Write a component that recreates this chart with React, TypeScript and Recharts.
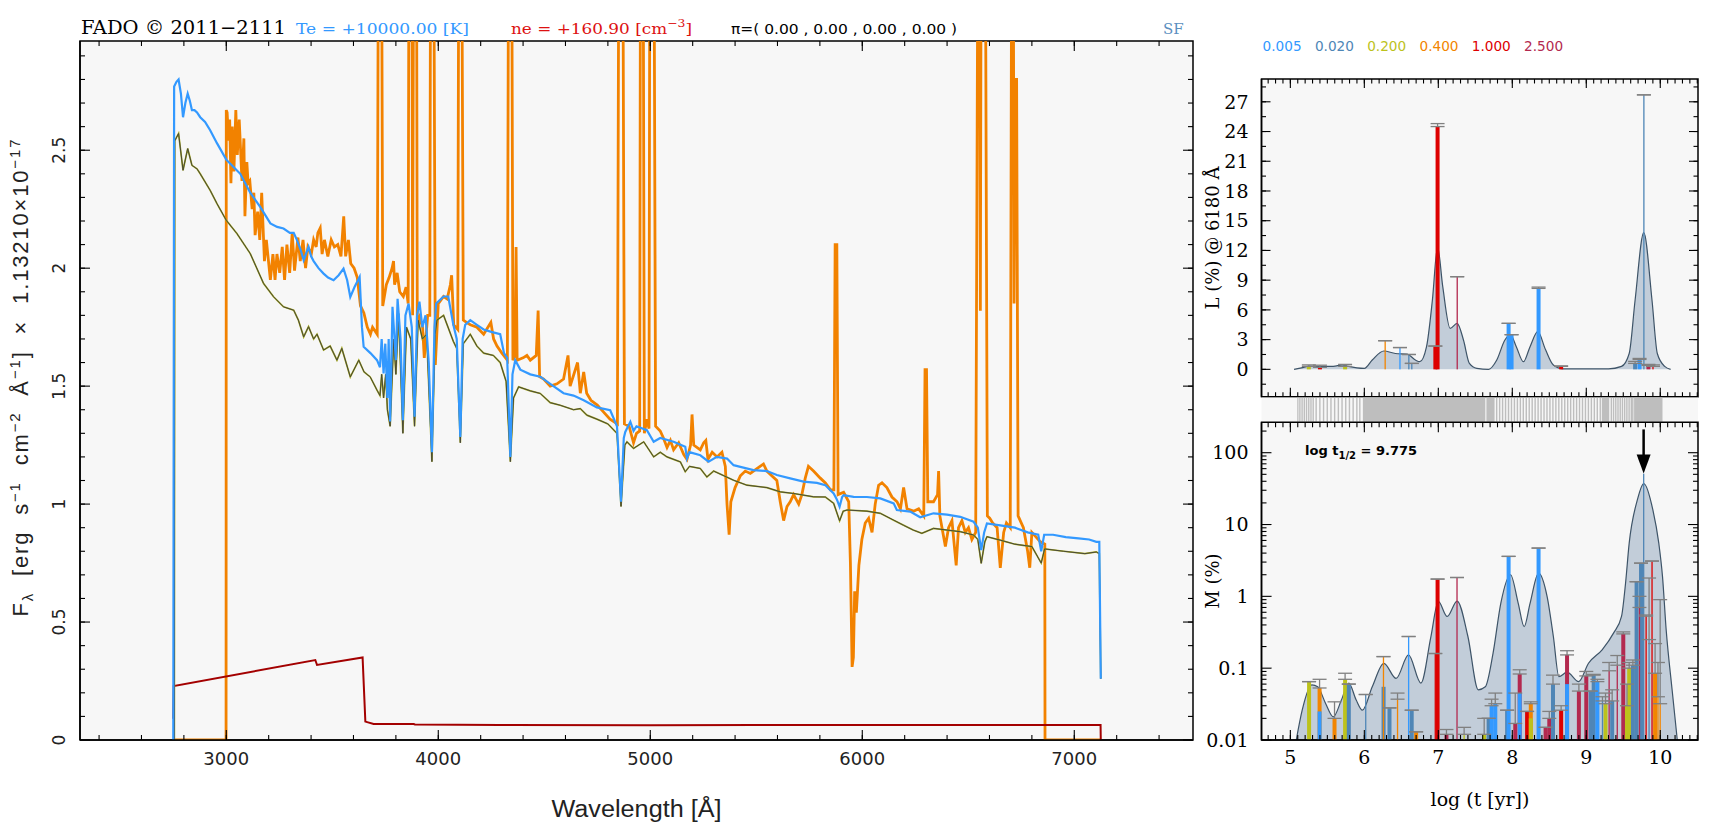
import React from 'react';
import {
  Area, Bar, CartesianGrid, Cell, ComposedChart, ErrorBar, Line, LineChart,
  ReferenceArea, ReferenceDot, ReferenceLine, XAxis, YAxis,
} from 'recharts';

const PANEL = '#f7f7f7';
const AXIS = { stroke: '#000', strokeWidth: 1.5 };
const SANS = 'DejaVu Sans';
const SERIF = 'DejaVu Serif';

// base metallicities and the colours used for them
const metallicities = ['0.005', '0.020', '0.200', '0.400', '1.000', '2.500'];
const zColours = ['#3399ff', '#4f86b6', '#bcc21c', '#f28500', '#dd0000', '#b3294f'];

// spectrum, [wavelength (A), flux]
const observed = [
  [2750, 0], [2999, 0], [3000, 2.67], [3004, 2.66], [3011, 2.54], [3016, 2.63], [3022, 2.36], [3028, 2.6],
  [3036, 2.41], [3045, 2.67], [3052, 2.48], [3061, 2.63], [3074, 2.37], [3083, 2.55], [3088, 2.22], [3097, 2.45],
  [3103, 2.36], [3111, 2.37], [3122, 2.25], [3130, 2.32], [3136, 2.14], [3148, 2.24], [3158, 2.12], [3167, 2.32],
  [3180, 2.03], [3189, 2.12], [3208, 1.95], [3220, 2.06], [3230, 1.95], [3239, 2.06], [3252, 1.98], [3264, 2.09],
  [3275, 1.95], [3286, 2.1], [3299, 1.98], [3311, 2.15], [3322, 1.99], [3338, 2.13], [3349, 2.03], [3362, 2.12],
  [3374, 2.0], [3385, 2.09], [3401, 2.06], [3412, 2.12], [3424, 2.09], [3432, 2.15], [3443, 2.17], [3452, 2.06],
  [3463, 2.12], [3479, 2.05], [3495, 2.12], [3510, 2.09], [3526, 2.1], [3541, 2.05], [3554, 2.22], [3563, 2.05],
  [3576, 2.12], [3587, 2.02], [3603, 2.0], [3618, 1.96], [3633, 1.84], [3649, 1.81], [3665, 1.75], [3680, 1.72],
  [3690, 1.75], [3712, 1.72], [3718, 3.6], [3732, 3.6], [3738, 1.84], [3755, 1.93], [3768, 1.96], [3782, 2.0],
  [3789, 2.03], [3794, 1.93], [3806, 1.98], [3818, 1.9], [3835, 1.88], [3848, 1.92], [3858, 1.85], [3862, 3.6],
  [3875, 3.6], [3879, 1.8], [3884, 3.6], [3897, 3.6], [3901, 1.75], [3912, 1.79], [3926, 1.75], [3934, 1.62],
  [3950, 1.8], [3960, 1.8], [3964, 3.6], [3978, 3.6], [3986, 1.59], [4000, 1.85], [4025, 1.88], [4042, 1.87],
  [4057, 1.93], [4063, 1.97], [4073, 1.76], [4092, 1.74], [4097, 3.6], [4110, 3.6], [4118, 1.78], [4133, 1.77],
  [4151, 1.76], [4182, 1.75], [4214, 1.72], [4248, 1.77], [4261, 1.7], [4277, 1.67], [4300, 1.64], [4326, 1.61],
  [4332, 3.6], [4346, 3.6], [4352, 1.61], [4362, 1.63], [4367, 2.09], [4372, 1.61], [4400, 1.62], [4418, 1.63],
  [4434, 1.61], [4462, 1.63], [4471, 1.82], [4478, 1.54], [4497, 1.53], [4528, 1.5], [4560, 1.51], [4591, 1.53],
  [4612, 1.63], [4622, 1.5], [4657, 1.6], [4670, 1.47], [4686, 1.56], [4700, 1.47], [4720, 1.44], [4750, 1.42],
  [4780, 1.39], [4810, 1.36], [4845, 1.34], [4852, 3.6], [4870, 3.6], [4878, 1.34], [4900, 1.33], [4921, 1.26],
  [4935, 1.3], [4950, 1.31], [4954, 3.6], [4966, 3.6], [4972, 1.3], [4984, 1.36], [4994, 1.32], [4998, 3.6],
  [5017, 3.6], [5025, 1.33], [5047, 1.31], [5062, 1.28], [5079, 1.24], [5095, 1.27], [5110, 1.23], [5134, 1.26],
  [5158, 1.21], [5173, 1.19], [5190, 1.25], [5197, 1.38], [5205, 1.25], [5236, 1.23], [5252, 1.26], [5262, 1.27],
  [5272, 1.19], [5292, 1.22], [5315, 1.2], [5338, 1.22], [5354, 1.16], [5362, 1.0], [5372, 0.87], [5380, 1.01],
  [5400, 1.07], [5425, 1.12], [5448, 1.14], [5472, 1.13], [5503, 1.15], [5518, 1.16], [5534, 1.17], [5550, 1.14],
  [5573, 1.12], [5597, 1.1], [5613, 1.01], [5629, 0.93], [5645, 0.99], [5660, 1.01], [5676, 1.04], [5700, 1.0],
  [5715, 1.04], [5731, 1.11], [5746, 1.16], [5770, 1.14], [5802, 1.11], [5826, 1.09], [5850, 1.06], [5866, 1.06],
  [5872, 2.1], [5880, 2.1], [5886, 1.04], [5912, 1.05], [5936, 1.01], [5944, 0.75], [5952, 0.31], [5958, 0.35],
  [5964, 0.63], [5972, 0.54], [5984, 0.74], [5998, 0.85], [6014, 0.92], [6030, 0.94], [6046, 0.88], [6061, 1.0],
  [6077, 1.08], [6093, 1.09], [6116, 1.07], [6140, 1.03], [6164, 1.01], [6180, 0.98], [6195, 1.07], [6211, 0.98],
  [6242, 0.97], [6266, 0.98], [6290, 0.95], [6296, 1.57], [6303, 1.57], [6309, 1.01], [6336, 1.01], [6355, 1.04],
  [6360, 1.14], [6366, 0.95], [6376, 0.9], [6392, 0.82], [6407, 0.9], [6423, 0.93], [6443, 0.74], [6454, 0.9],
  [6470, 0.93], [6486, 0.88], [6501, 0.9], [6517, 0.85], [6535, 0.88], [6546, 3.6], [6553, 3.6], [6557, 1.82],
  [6561, 3.6], [6580, 3.6], [6590, 0.95], [6601, 0.94], [6615, 0.92], [6636, 0.9], [6651, 0.73], [6667, 0.88],
  [6680, 0.92], [6698, 0.9], [6705, 3.6], [6712, 3.6], [6716, 1.85], [6721, 2.8], [6728, 2.8], [6735, 0.95],
  [6760, 0.9], [6780, 0.8], [6790, 0.73], [6800, 0.88], [6820, 0.86], [6840, 0.84], [6861, 0.83], [6862, 0],
  [7125, 0],
];

const bestFit = [
  [2750, 0], [2754, 2.77], [2765, 2.79], [2775, 2.8], [2786, 2.74], [2796, 2.64], [2807, 2.7], [2818, 2.74],
  [2828, 2.71], [2838, 2.67], [2850, 2.67], [2862, 2.66], [2877, 2.64], [2900, 2.62], [2924, 2.585], [2956, 2.53],
  [3000, 2.46], [3033, 2.43], [3066, 2.4], [3113, 2.32], [3160, 2.26], [3208, 2.19], [3240, 2.175], [3270, 2.168],
  [3300, 2.15], [3318, 2.15], [3333, 2.12], [3350, 2.08], [3365, 2.034], [3388, 2.09], [3400, 2.05], [3412, 2.03],
  [3435, 2.0], [3459, 1.977], [3480, 1.96], [3506, 1.949], [3530, 1.97], [3553, 1.998], [3570, 1.95], [3585, 1.878],
  [3605, 1.92], [3629, 1.963], [3640, 1.75], [3648, 1.667], [3680, 1.64], [3711, 1.61], [3725, 1.58], [3733, 1.7],
  [3742, 1.554], [3750, 1.68], [3760, 1.45], [3766, 1.7], [3773, 1.35], [3784, 1.836], [3800, 1.61], [3808, 1.87],
  [3822, 1.7], [3833, 1.356], [3845, 1.8], [3860, 1.85], [3875, 1.75], [3888, 1.37], [3900, 1.8], [3911, 1.858],
  [3925, 1.75], [3940, 1.8], [3955, 1.6], [3970, 1.22], [3982, 1.75], [3990, 1.85], [4025, 1.88], [4047, 1.88],
  [4071, 1.76], [4087, 1.7], [4104, 1.285], [4115, 1.7], [4127, 1.76], [4151, 1.78], [4182, 1.76], [4214, 1.74],
  [4250, 1.73], [4292, 1.72], [4310, 1.64], [4325, 1.62], [4340, 1.2], [4350, 1.55], [4363, 1.61], [4387, 1.57],
  [4434, 1.55], [4481, 1.54], [4528, 1.51], [4591, 1.47], [4638, 1.46], [4686, 1.44], [4748, 1.41], [4811, 1.398],
  [4843, 1.33], [4862, 1.01], [4875, 1.28], [4882, 1.306], [4906, 1.349], [4921, 1.31], [4935, 1.33], [4984, 1.313],
  [5016, 1.264], [5047, 1.28], [5110, 1.264], [5165, 1.243], [5173, 1.193], [5185, 1.22], [5236, 1.207], [5275, 1.18],
  [5314, 1.2], [5362, 1.193], [5393, 1.165], [5425, 1.158], [5487, 1.144], [5550, 1.14], [5597, 1.123], [5660, 1.109],
  [5723, 1.095], [5786, 1.09], [5826, 1.08], [5865, 1.045], [5880, 1.02], [5893, 0.989], [5905, 1.03], [5912, 1.038],
  [5959, 1.031], [6022, 1.03], [6085, 1.024], [6148, 1.003], [6163, 0.975], [6226, 0.968], [6273, 0.944], [6336, 0.961],
  [6400, 0.955], [6462, 0.946], [6525, 0.925], [6545, 0.9], [6561, 0.805], [6575, 0.88], [6588, 0.918], [6651, 0.91],
  [6720, 0.9], [6780, 0.88], [6830, 0.87], [6844, 0.8], [6858, 0.87], [6900, 0.87], [6960, 0.86], [7020, 0.855],
  [7070, 0.85], [7104, 0.84], [7118, 0.84], [7125, 0.26],
];

const stellar = [
  [2755, 0], [2757, 2.54], [2775, 2.571], [2796, 2.415], [2818, 2.507], [2838, 2.436], [2862, 2.421], [2877, 2.4],
  [2924, 2.33], [2956, 2.274], [3000, 2.203], [3050, 2.147], [3113, 2.062], [3176, 1.935], [3223, 1.879], [3270, 1.836],
  [3318, 1.822], [3340, 1.78], [3365, 1.709], [3388, 1.752], [3412, 1.7], [3428, 1.72], [3459, 1.653], [3490, 1.67],
  [3522, 1.61], [3545, 1.66], [3585, 1.539], [3625, 1.61], [3650, 1.56], [3679, 1.539], [3711, 1.483], [3725, 1.46],
  [3733, 1.55], [3742, 1.45], [3752, 1.55], [3760, 1.4], [3773, 1.33], [3790, 1.7], [3800, 1.55], [3813, 1.808],
  [3833, 1.3], [3850, 1.75], [3870, 1.7], [3888, 1.33], [3905, 1.78], [3925, 1.7], [3945, 1.72], [3970, 1.18],
  [3985, 1.72], [3994, 1.78], [4025, 1.8], [4071, 1.69], [4087, 1.66], [4104, 1.26], [4118, 1.68], [4151, 1.72],
  [4182, 1.67], [4214, 1.64], [4260, 1.63], [4292, 1.6], [4320, 1.52], [4340, 1.18], [4355, 1.45], [4379, 1.497],
  [4434, 1.48], [4481, 1.469], [4528, 1.43], [4575, 1.419], [4638, 1.4], [4670, 1.405], [4701, 1.377], [4748, 1.36],
  [4800, 1.34], [4843, 1.3], [4862, 0.99], [4880, 1.25], [4890, 1.264], [4921, 1.236], [4969, 1.264], [5016, 1.2],
  [5047, 1.22], [5079, 1.2], [5142, 1.179], [5165, 1.137], [5185, 1.16], [5236, 1.151], [5267, 1.115], [5299, 1.14],
  [5393, 1.101], [5456, 1.08], [5550, 1.07], [5613, 1.052], [5676, 1.045], [5770, 1.031], [5826, 1.03], [5865, 1.003],
  [5893, 0.929], [5910, 0.97], [5928, 0.975], [6022, 0.97], [6085, 0.961], [6148, 0.932], [6195, 0.91], [6240, 0.89],
  [6281, 0.876], [6336, 0.897], [6400, 0.89], [6462, 0.883], [6525, 0.869], [6545, 0.85], [6561, 0.749], [6578, 0.84],
  [6588, 0.862], [6651, 0.847], [6720, 0.83], [6800, 0.82], [6844, 0.75], [6860, 0.81], [6950, 0.8], [7050, 0.79],
  [7104, 0.797], [7118, 0.79], [7125, 0.26],
];

const nebular = [
  [2750, 0.09], [2752, 0.229], [3420, 0.339], [3428, 0.318], [3643, 0.35], [3656, 0.078], [3695, 0.068],
  [3884, 0.068], [3890, 0.066], [4291, 0.064], [5000, 0.063], [5500, 0.064], [6000, 0.064], [6500, 0.064],
  [7000, 0.064], [7124, 0.064], [7125, 0],
];

const specTicks = [3000, 4000, 5000, 6000, 7000];
const fluxTicks = [0, 0.5, 1, 1.5, 2, 2.5];

// age distributions, [log t, %]
const lightCurve = [
  [5.05, 0], [5.15, 0.15], [5.26, 0.33], [5.4, 0.3], [5.58, 0.3], [5.7, 0.45], [5.79, 0.3], [5.9, 0.15], [6.0, 0.1],
  [6.107, 0.94], [6.264, 1.85], [6.42, 1.6], [6.58, 1.54], [6.69, 0.94], [6.75, 0.77], [6.84, 2.27], [6.92, 7.0],
  [6.99, 12.37], [7.06, 8.34], [7.16, 4.13], [7.254, 4.64], [7.34, 2.96], [7.42, 0.6], [7.52, 0.1], [7.68, 0.0],
  [7.79, 0.94], [7.9, 2.96], [7.976, 3.47], [8.054, 2.29], [8.15, 0.77], [8.24, 2.29], [8.344, 3.8], [8.45, 1.97],
  [8.555, 0.44], [8.69, 0.05], [9.0, 0.05], [9.3, 0.05], [9.476, 0.3], [9.58, 1.6], [9.66, 7.0], [9.777, 13.8],
  [9.888, 7.0], [9.96, 1.6], [10.06, 0.3], [10.14, 0],
];
const massCurve = [
  [5.08, 0.01], [5.16, 0.026], [5.29, 0.0585], [5.37, 0.055], [5.475, 0.0325], [5.58, 0.021], [5.69, 0.036],
  [5.79, 0.062], [5.89, 0.036], [5.974, 0.026], [6.107, 0.055], [6.264, 0.117], [6.43, 0.072], [6.597, 0.153],
  [6.765, 0.062], [6.9, 0.276], [7.0, 0.85], [7.12, 0.525], [7.254, 0.86], [7.4, 0.276], [7.54, 0.05], [7.635, 0.055],
  [7.74, 0.162], [7.845, 0.805], [7.976, 2.0], [8.08, 0.8], [8.16, 0.38], [8.24, 0.8], [8.355, 2.11], [8.47, 1.0],
  [8.555, 0.276], [8.63, 0.076], [8.74, 0.088], [8.897, 0.065], [9.03, 0.117], [9.214, 0.18], [9.37, 0.31],
  [9.476, 0.525], [9.53, 1.5], [9.58, 5.5], [9.69, 22], [9.777, 37.2], [9.9, 16], [9.98, 5.5], [10.03, 1.9],
  [10.08, 0.34], [10.16, 0.05], [10.23, 0.01],
];

// individual SSPs, [log t, value, upper error or null, metallicity index]
const lightBars = [
  [5.25, 0.3, 0.15, 2], [5.4, 0.2, 0.22, 4], [5.74, 0.3, 0.2, 2], [6.96, 2.35, 0, 4], [6.99, 24.5, 0.3, 4],
  [7.95, 4.64, 0, 0], [7.99, 3.5, 0, 0], [8.355, 8.17, 0.13, 0], [8.66, 0.3, 0.05, 4], [9.66, 0.6, 0.2, 1],
  [9.72, 1.0, 0.1, 0], [9.84, 0.4, 0.1, 5],
];
const lightSpikes = [
  [6.28, 2.89, 0, 3], [6.48, 2.2, 0, 0], [6.6, 1.5, 0, 1], [6.64, 0.6, 0, 1], [7.254, 9.35, 0, 5],
  [9.777, 27.7, 0, 1], [9.9, 0.3, 0.15, 4],
];
const massBars = [
  [5.253, 0.065, 0, 2], [5.395, 0.053, 0.017, 3], [5.395, 0.025, null, 0], [5.597, 0.02, 0.014, 3],
  [5.74, 0.07, 0.015, 2], [5.79, 0.06, 0, 1], [6.26, 0.055, null, 1], [6.34, 0.028, 0, 1], [6.64, 0.026, 0, 1],
  [6.7, 0.013, 0, 3], [6.99, 1.74, 0, 4], [7.11, 0.012, 0.002, 5], [7.62, 0.012, 0.008, 2], [7.68, 0.02, 0, 1],
  [7.72, 0.03, 0.007, 0], [7.77, 0.032, 0.013, 0], [7.93, 0.026, 0, 1], [7.95, 3.6, 0, 0], [8.04, 0.017, 0.028, 5],
  [8.1, 0.083, 0.012, 5], [8.1, 0.045, null, 0], [8.2, 0.025, 0, 4], [8.25, 0.032, 0.002, 3], [8.25, 0.02, null, 2],
  [8.355, 4.7, 0, 0], [8.45, 0.015, 0, 5], [8.5, 0.02, 0.005, 5], [8.55, 0.06, 0.02, 1], [8.66, 0.026, 0.004, 4],
  [8.74, 0.153, 0.022, 5], [8.74, 0.06, null, 0], [8.9, 0.048, 0.012, 5], [9.0, 0.078, 0.012, 5], [9.06, 0.048, 0, 1],
  [9.1, 0.08, 0.002, 1], [9.15, 0.065, 0.005, 0], [9.26, 0.032, 0.013, 2], [9.35, 0.035, 0.015, 1],
  [9.5, 0.3, 0.02, 5], [9.55, 0.03, 0.03, 2], [9.58, 0.1, 0.02, 2], [9.63, 0.11, 0.02, 1], [9.68, 1.6, 0, 1],
  [9.74, 2.9, 0, 1], [9.93, 0.085, 0.135, 3],
];
const massSpikes = [
  [6.02, 0.043, 0, 1], [6.26, 0.145, 0, 3], [6.45, 0.037, 0.008, 3], [6.6, 0.276, 0, 0], [6.96, 0.16, 0, 4],
  [7.254, 1.83, 0, 5], [7.35, 0.012, 0.003, 2], [9.22, 0.035, 0.005, 1], [9.31, 0.092, 0.028, 5],
  [9.42, 0.11, 0.04, 5], [9.72, 0.7, 0.3, 5], [9.777, 51, null, 1], [9.81, 0.53, 0.02, 4], [9.85, 0.25, 1.55, 1],
  [9.89, 3.1, 0, 4], [9.97, 0.04, 0.08, 3], [10.0, 0.032, 0.868, 3],
];

const ageTicks = [5, 6, 7, 8, 9, 10];
const lightTicks = [0, 3, 6, 9, 12, 15, 18, 21, 24, 27];
const massTicks = [0.01, 0.1, 1, 10, 100];
const massMinor = [
  0.02, 0.03, 0.04, 0.05, 0.06, 0.07, 0.08, 0.09, 0.2, 0.3, 0.4, 0.5, 0.6, 0.7, 0.8, 0.9,
  2, 3, 4, 5, 6, 7, 8, 9, 20, 30, 40, 50, 60, 70, 80, 90, 200,
];

// ages of the base library (strip between the panels)
const baseBlocks = [[5.093, 5.11], [5.98, 7.635], [7.65, 7.76], [9.21, 9.31], [9.646, 10.03]];
const baseAges = [
  5.13, 5.16, 5.19, 5.22, 5.25, 5.28, 5.31, 5.35, 5.4, 5.45, 5.5, 5.55, 5.6, 5.65, 5.7, 5.75, 5.8, 5.85,
  5.9, 5.94, 7.79, 7.83, 7.87, 7.91, 7.95, 7.99, 8.03, 8.07, 8.11, 8.15, 8.19, 8.23, 8.27, 8.31, 8.35, 8.39, 8.43,
  8.47, 8.51, 8.55, 8.59, 8.63, 8.67, 8.71, 8.75, 8.79, 8.83, 8.87, 8.91, 8.95, 8.99, 9.03, 9.07, 9.11, 9.15, 9.19,
  9.34, 9.37, 9.4, 9.43, 9.46, 9.49, 9.52, 9.55, 9.58, 9.61, 9.63,
];
const halfMassAge = 9.775;
const arrowFrom = 211;
const arrowTip = 51.3;

const SPEC_X = [2310, 7560];
const SPEC_Y = [0, 2.963];
const AGE_X = [4.61, 10.51];
const LIGHT_Y = [-2.76, 29.3];
const MASS_Y = [0.01, 265];

const range = (a: number, b: number, s: number) =>
  Array.from({ length: Math.round((b - a) / s) + 1 }, (_, i) => +(a + i * s).toFixed(4));

const pts = (arr: number[][], k: string) => arr.map(([x, y]) => ({ [k]: x, v: y }));
const rows = (bars: any[], spikes: any[]) => [
  ...bars.map(([t, v, e, z]) => ({ t, bar: v, barErr: e === null ? undefined : [0, e], z })),
  ...spikes.map(([t, v, e, z]) => ({ t, spike: v, spikeErr: e === null ? undefined : [0, e], z })),
];

// a reference line drawn only as two short inward ticks at its ends
const tickShape = (len: number) => (p: any) => {
  const { x1, x2, y1, y2 } = p;
  if (![x1, x2, y1, y2].every(Number.isFinite)) return <g />;
  if (Math.abs(x1 - x2) < 0.5) {
    const top = Math.min(y1, y2);
    const bot = Math.max(y1, y2);
    return (
      <g stroke="#000" strokeWidth={1.1}>
        <line x1={x1} x2={x1} y1={top} y2={top + len} />
        <line x1={x1} x2={x1} y1={bot - len} y2={bot} />
      </g>
    );
  }
  const l = Math.min(x1, x2);
  const r = Math.max(x1, x2);
  return (
    <g stroke="#000" strokeWidth={1.1}>
      <line x1={l} x2={l + len} y1={y1} y2={y1} />
      <line x1={r - len} x2={r} y1={y1} y2={y1} />
    </g>
  );
};

function frame(xd: number[], yd: number[], xMaj: number[], xMin: number[], yMaj: number[], yMin: number[],
  big: number, small: number) {
  return [
    ...xMin.map((v) => <ReferenceLine key={`xm${v}`} x={v} shape={tickShape(small)} />),
    ...xMaj.map((v) => <ReferenceLine key={`xM${v}`} x={v} shape={tickShape(big)} />),
    ...yMin.map((v) => <ReferenceLine key={`ym${v}`} y={v} shape={tickShape(small)} />),
    ...yMaj.map((v) => <ReferenceLine key={`yM${v}`} y={v} shape={tickShape(big)} />),
    <ReferenceArea key="border" x1={xd[0]} x2={xd[1]} y1={yd[0]} y2={yd[1]} fill="none" stroke="#000" strokeWidth={1.5} />,
  ];
}

const RotTick = (p: any) => (
  <text x={p.x} y={p.y} transform={`rotate(-90 ${p.x} ${p.y})`} textAnchor="middle" dy="0.36em"
    fontFamily={SANS} fontSize={17} fill="#222">{p.payload.value}</text>
);
const serifTick = { fontFamily: SERIF, fontSize: 19, fill: '#000' };

// fixed-width bar centred on the position the library computed
const slimBar = (w: number) => (p: any) => {
  if (!Number.isFinite(p.x) || !Number.isFinite(p.y) || !Number.isFinite(p.height) || p.height <= 0) return <g />;
  return <rect x={p.x + p.width / 2 - w / 2} y={p.y} width={w} height={p.height} fill={p.fill} />;
};

const Arrowhead = (p: any) => (
  <path d={`M${p.cx - 7},${p.cy - 19} L${p.cx + 7},${p.cy - 19} L${p.cx},${p.cy} Z`} fill="#000" />
);

export default function App() {
  const lightRows = rows(lightBars, lightSpikes);
  const massRows = rows(massBars, massSpikes);
  const baseRows = baseAges.map((t) => ({ t, v: 1 }));
  const ageMinor = range(4.7, 10.5, 0.1);

  const barSeries = (data: any[]) => [
    <Bar key="b" dataKey="bar" shape={slimBar(4)} isAnimationActive={false}>
      {data.map((r, i) => <Cell key={i} fill={zColours[r.z]} />)}
      <ErrorBar dataKey="barErr" width={7} stroke="#808080" strokeWidth={1.3} direction="y" />
    </Bar>,
    <Bar key="s" xAxisId="sp" dataKey="spike" shape={slimBar(1.3)} isAnimationActive={false}>
      {data.map((r, i) => <Cell key={i} fill={zColours[r.z]} />)}
      <ErrorBar dataKey="spikeErr" width={7} stroke="#808080" strokeWidth={1.3} direction="y" />
    </Bar>,
  ];

  return (
    <div style={{ position: 'relative', width: 1710, height: 828, background: '#fff', overflow: 'hidden' }}>
      <style>{'body{margin:0}'}</style>

      <div style={{ position: 'absolute', left: 0, top: 0 }}>
        <LineChart width={1200} height={828} margin={{ top: 41, right: 7, bottom: 58, left: 40 }}>
          <CartesianGrid fill={PANEL} horizontal={false} vertical={false} />
          <XAxis dataKey="w" type="number" domain={SPEC_X} allowDataOverflow ticks={specTicks} interval={0}
            height={30} tickLine={false} tickSize={0} tickMargin={12} axisLine={AXIS}
            tick={{ fontFamily: SANS, fontSize: 18, fill: '#222' }} />
          <YAxis type="number" domain={SPEC_Y} allowDataOverflow ticks={fluxTicks} interval={0} width={40}
            tickLine={false} tickSize={0} tickMargin={21} axisLine={AXIS} tick={(p: any) => <RotTick {...p} />} />
          <Line data={pts(observed, 'w')} dataKey="v" type="linear" stroke="#f28200" strokeWidth={2.8}
            dot={false} activeDot={false} isAnimationActive={false} />
          <Line data={pts(nebular, 'w')} dataKey="v" type="linear" stroke="#a30000" strokeWidth={2}
            dot={false} activeDot={false} isAnimationActive={false} />
          <Line data={pts(stellar, 'w')} dataKey="v" type="linear" stroke="#a5a81e" strokeWidth={1.7}
            dot={false} activeDot={false} isAnimationActive={false} />
          <Line data={pts(stellar, 'w')} dataKey="v" type="linear" stroke="#48483a" strokeWidth={1}
            dot={false} activeDot={false} isAnimationActive={false} />
          <Line data={pts(bestFit, 'w')} dataKey="v" type="linear" stroke="#3399ff" strokeWidth={2.2}
            dot={false} activeDot={false} isAnimationActive={false} />
          {frame(SPEC_X, SPEC_Y, specTicks, range(2400, 7400, 200), fluxTicks, range(0.1, 2.9, 0.1), 10, 5)}
        </LineChart>
      </div>

      <div style={{ position: 'absolute', left: 1150, top: 0 }}>
        <ComposedChart width={560} height={420} data={lightRows} margin={{ top: 79, right: 12, bottom: 23.3, left: 61.5 }}>
          <CartesianGrid fill={PANEL} horizontal={false} vertical={false} />
          <XAxis dataKey="t" type="number" domain={AGE_X} allowDataOverflow hide />
          <XAxis xAxisId="sp" dataKey="t" type="number" domain={AGE_X} allowDataOverflow hide />
          <YAxis type="number" domain={LIGHT_Y} allowDataOverflow ticks={lightTicks} interval={0} width={50}
            tickLine={false} tickSize={0} tickMargin={13} axisLine={AXIS} tick={serifTick} />
          <Area data={pts(lightCurve, 't')} dataKey="v" type="monotone" fill="#c2cdd9" fillOpacity={1}
            stroke="#3e5468" strokeWidth={1.2} dot={false} activeDot={false} isAnimationActive={false} />
          {barSeries(lightRows)}
          {frame(AGE_X, LIGHT_Y, ageTicks, ageMinor, lightTicks, range(-1.5, 28.5, 1.5), 9, 4.5)}
        </ComposedChart>
      </div>

      <div style={{ position: 'absolute', left: 1150, top: 397 }}>
        <ComposedChart width={560} height={30} data={baseRows} margin={{ top: 0.7, right: 12, bottom: 5.3, left: 111.5 }}>
          <CartesianGrid fill={PANEL} horizontal={false} vertical={false} />
          <XAxis dataKey="t" type="number" domain={AGE_X} allowDataOverflow hide />
          <YAxis type="number" domain={[0, 1]} allowDataOverflow hide />
          {baseBlocks.map(([a, b]) => (
            <ReferenceArea key={a} x1={a} x2={b} y1={0} y2={1} fill="#bebebe" fillOpacity={1} stroke="none" />
          ))}
          <Bar dataKey="v" fill="#bebebe" shape={slimBar(1.4)} isAnimationActive={false} />
        </ComposedChart>
      </div>

      <div style={{ position: 'absolute', left: 1150, top: 400 }}>
        <ComposedChart width={560} height={428} data={massRows} margin={{ top: 22.3, right: 12, bottom: 58, left: 61.5 }}>
          <CartesianGrid fill={PANEL} horizontal={false} vertical={false} />
          <XAxis dataKey="t" type="number" domain={AGE_X} allowDataOverflow ticks={ageTicks} interval={0}
            height={30} tickLine={false} tickSize={0} tickMargin={11} axisLine={AXIS} tick={serifTick} />
          <XAxis xAxisId="sp" dataKey="t" type="number" domain={AGE_X} allowDataOverflow hide />
          <YAxis type="number" scale="log" domain={MASS_Y} allowDataOverflow ticks={massTicks} interval={0} width={50}
            tickLine={false} tickSize={0} tickMargin={13} axisLine={AXIS} tick={serifTick} />
          <Area data={pts(massCurve, 't')} dataKey="v" type="monotone" baseValue={0.01} fill="#c2cdd9" fillOpacity={1}
            stroke="#3e5468" strokeWidth={1.2} dot={false} activeDot={false} isAnimationActive={false} />
          {barSeries(massRows)}
          <ReferenceLine segment={[{ x: halfMassAge, y: arrowFrom }, { x: halfMassAge, y: arrowTip * 1.4 }]}
            stroke="#000" strokeWidth={2.5} />
          <ReferenceDot x={halfMassAge} y={arrowTip} shape={Arrowhead} />
          {frame(AGE_X, MASS_Y, ageTicks, ageMinor, massTicks, massMinor, 10, 5)}
        </ComposedChart>
      </div>

      <svg width={1710} height={828} style={{ position: 'absolute', left: 0, top: 0, pointerEvents: 'none' }}>
        <text x={81} y={34} fontFamily={SERIF} fontSize={19} textLength={205} lengthAdjust="spacingAndGlyphs">FADO © 2011−2111</text>
        <text x={296} y={34} fontFamily={SERIF} fontSize={15} fill="#3399ff" textLength={173} lengthAdjust="spacingAndGlyphs">Te = +10000.00 [K]</text>
        <text x={511} y={34} fontFamily={SERIF} fontSize={15} fill="#dd1111" textLength={181} lengthAdjust="spacingAndGlyphs">
          ne = +160.90 [cm<tspan fontSize={11} dy={-7}>−3</tspan><tspan dy={7}>]</tspan>
        </text>
        <text x={731} y={34} fontFamily={SANS} fontSize={14} textLength={226} lengthAdjust="spacingAndGlyphs">π=( 0.00 , 0.00 , 0.00 , 0.00 )</text>
        <text x={1163} y={34} fontFamily={SERIF} fontSize={15} fill="#5b8fc0">SF</text>
        {metallicities.map((m, i) => (
          <text key={m} x={1262.6 + i * 52.3} y={50.5} fontFamily={SANS} fontSize={14} fill={zColours[i]}
            textLength={39} lengthAdjust="spacingAndGlyphs">{m}</text>
        ))}
        <text transform="translate(28,378) rotate(-90)" textAnchor="middle" fontFamily="Liberation Sans" fontSize={22}
          fill="#222" style={{ whiteSpace: 'pre' }} textLength={477} lengthAdjust="spacing">
          F<tspan dy={5} fontSize={15}>λ</tspan><tspan dy={-5}>{'  [erg  s'}</tspan><tspan dy={-8} fontSize={15}>−1</tspan>
          <tspan dy={8}>{'  cm'}</tspan><tspan dy={-8} fontSize={15}>−2</tspan><tspan dy={8}>{'  Å'}</tspan>
          <tspan dy={-8} fontSize={15}>−1</tspan><tspan dy={8}>{']  ×  1.13210×10'}</tspan><tspan dy={-8} fontSize={15}>−17</tspan>
        </text>
        <text x={636.5} y={817} textAnchor="middle" fontFamily="Liberation Sans" fontSize={23} fill="#222"
          textLength={170} lengthAdjust="spacingAndGlyphs">Wavelength [Å]</text>
        <text transform="translate(1219,238) rotate(-90)" textAnchor="middle" fontFamily={SERIF} fontSize={18}>L (%) @ 6180 Å</text>
        <text transform="translate(1219,581) rotate(-90)" textAnchor="middle" fontFamily={SERIF} fontSize={18}>M (%)</text>
        <text x={1480} y={806} textAnchor="middle" fontFamily={SERIF} fontSize={19}>log (t [yr])</text>
        <text x={1305} y={455} fontFamily={SANS} fontSize={13} fontWeight="bold">
          log t<tspan dy={4} fontSize={10}>1/2</tspan><tspan dy={-4}>{' = 9.775'}</tspan>
        </text>
      </svg>
    </div>
  );
}
